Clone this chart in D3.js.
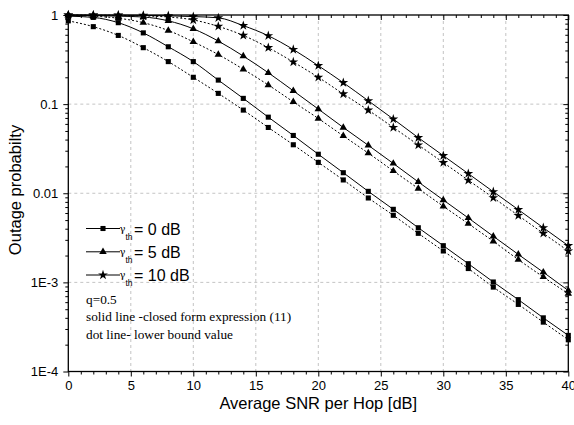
<!DOCTYPE html>
<html><head><meta charset="utf-8">
<script src="https://cdn.jsdelivr.net/npm/d3@7"></script>
<style>body{margin:0;background:#fff}</style>
</head><body><svg id="c" width="574" height="425"></svg>
<script>
const snrDb = [0,2,4,6,8,10,12,14,16,18,20,22,24,26,28,30,32,34,36,38,40];
// gamma_th = 0 dB
const closed0 = [0.97,0.94,0.82,0.63,0.44,0.30,0.186,0.116,0.0714,0.0445,0.0274,0.0170,0.0105,0.0066,0.0041,0.00258,0.00162,0.00101,0.00064,0.00040,0.000254];
const lower0  = [0.86,0.74,0.59,0.43,0.30,0.20,0.132,0.0857,0.0547,0.0350,0.0222,0.0141,0.00885,0.00566,0.00355,0.00225,0.00143,0.000885,0.000566,0.000358,0.000227];
// gamma_th = 5 dB
const closed5 = [0.995,0.985,0.97,0.95,0.86,0.70,0.51,0.346,0.225,0.141,0.088,0.0547,0.0345,0.0216,0.0134,0.0084,0.00528,0.00329,0.00206,0.0013,0.00081];
const lower5  = [0.99,0.97,0.92,0.82,0.67,0.50,0.36,0.246,0.164,0.106,0.069,0.044,0.0282,0.0178,0.0113,0.00714,0.00456,0.00289,0.0018,0.00115,0.000746];
// gamma_th = 10 dB
const closed10 = [0.999,0.998,0.995,0.99,0.98,0.96,0.93,0.76,0.585,0.41,0.27,0.174,0.109,0.068,0.042,0.0264,0.0166,0.0104,0.00655,0.0041,0.00258];
const lower10  = [0.998,0.995,0.99,0.975,0.95,0.88,0.745,0.59,0.43,0.297,0.20,0.13,0.0855,0.0547,0.0348,0.0221,0.0140,0.0089,0.00563,0.00355,0.00225];

const xTicks = [0,5,10,15,20,25,30,35,40];
const yTicks = [1,0.1,0.01,1e-3,1e-4];
const yTickLabels = ["1","0.1","0.01","1E-3","1E-4"];
const legendLabels = ["= 0 dB","= 5 dB","= 10 dB"];
const notes = ["q=0.5","solid line -closed form expression (11)","dot line- lower bound value"];
const xTitle = "Average SNR per Hop [dB]";
const yTitle = "Outage probabilty";

const L=68.3, R=568.3, T=15, B=371.5;
const svg = d3.select("#c");
const x = d3.scaleLinear().domain([0,40]).range([L,R]);
const y = d3.scaleLog().domain([1e-4,1]).range([B,T]);

const xMinor = d3.range(0,41,1).filter(v=>v%5!==0);
const yMinor = [];
[1e-4,1e-3,1e-2,1e-1].forEach(d=>{for(let k=2;k<=9;k++) yMinor.push(d*k);});

// grid
const g = svg.append("g").attr("stroke","#c4c4c4").attr("stroke-dasharray","3,3").attr("stroke-width",1);
xTicks.slice(1,-1).forEach(v=>g.append("line").attr("x1",x(v)).attr("x2",x(v)).attr("y1",T).attr("y2",B));
yTicks.slice(1,-1).forEach(v=>g.append("line").attr("x1",L).attr("x2",R).attr("y1",y(v)).attr("y2",y(v)));

// axes
function styleAxis(sel){sel.select(".domain").remove(); sel.selectAll("line").attr("stroke","#000");}
const fmtY = v => yTickLabels[yTicks.indexOf(v)];
svg.append("g").attr("transform",`translate(0,${B})`)
  .call(d3.axisBottom(x).tickValues(xTicks).tickSize(5).tickPadding(4).tickFormat(d3.format("d")))
  .call(styleAxis).call(s=>s.selectAll("text").attr("font-family","Arial, 'Liberation Sans'").attr("font-size",13).attr("fill","#000"));
svg.append("g").attr("transform",`translate(0,${B})`)
  .call(d3.axisBottom(x).tickValues(xMinor).tickSize(3).tickFormat("")).call(styleAxis);
svg.append("g").attr("transform",`translate(0,${T})`)
  .call(d3.axisBottom(x).tickValues(xTicks).tickSize(5).tickFormat("")).call(styleAxis);
svg.append("g").attr("transform",`translate(0,${T})`)
  .call(d3.axisBottom(x).tickValues(xMinor).tickSize(3).tickFormat("")).call(styleAxis);
svg.append("g").attr("transform",`translate(${L},0)`)
  .call(d3.axisLeft(y).tickValues(yTicks).tickSize(5).tickPadding(5).tickFormat(fmtY))
  .call(styleAxis).call(s=>s.selectAll("text").attr("font-family","Arial, 'Liberation Sans'").attr("font-size",13).attr("fill","#000"));
svg.append("g").attr("transform",`translate(${L},0)`)
  .call(d3.axisLeft(y).tickValues(yMinor).tickSize(3).tickFormat("")).call(styleAxis);
svg.append("g").attr("transform",`translate(${R},0)`)
  .call(d3.axisLeft(y).tickValues(yTicks).tickSize(5).tickFormat("")).call(styleAxis);
svg.append("g").attr("transform",`translate(${R},0)`)
  .call(d3.axisLeft(y).tickValues(yMinor).tickSize(3).tickFormat("")).call(styleAxis);

svg.append("rect").attr("x",L).attr("y",T).attr("width",R-L).attr("height",B-T)
  .attr("fill","none").attr("stroke","#000").attr("stroke-width",1.3);

// series
const series = [
  {v:closed0, dash:null, sym:d3.symbolSquare, size:26},
  {v:lower0, dash:"2,2", sym:d3.symbolSquare, size:26},
  {v:closed5, dash:null, sym:d3.symbolTriangle, size:24},
  {v:lower5, dash:"2,2", sym:d3.symbolTriangle, size:24},
  {v:closed10, dash:null, sym:d3.symbolStar, size:30},
  {v:lower10, dash:"2,2", sym:d3.symbolStar, size:30}
];
const line = d3.line().x((d,i)=>x(snrDb[i])).y(d=>y(d)).curve(d3.curveMonotoneX);
series.forEach(s=>{
  svg.append("path").attr("d",line(s.v)).attr("fill","none").attr("stroke","#000")
    .attr("stroke-width",1).attr("stroke-dasharray",s.dash);
  svg.append("g").selectAll("path").data(s.v).join("path")
    .attr("transform",(d,i)=>`translate(${x(snrDb[i])},${y(d)})`)
    .attr("d",d3.symbol(s.sym,s.size)()).attr("fill","#000");
});

// legend
const legSyms = [[d3.symbolSquare,26],[d3.symbolTriangle,24],[d3.symbolStar,30]];
const legY = [228.5,251.8,275];
legendLabels.forEach((t,i)=>{
  const gy = legY[i];
  svg.append("line").attr("x1",86).attr("x2",120).attr("y1",gy).attr("y2",gy).attr("stroke","#000");
  svg.append("path").attr("transform",`translate(103,${gy})`).attr("d",d3.symbol(legSyms[i][0],legSyms[i][1])()).attr("fill","#000");
  svg.append("text").attr("x",119.5).attr("y",gy+3).attr("font-family","'DejaVu Serif', serif").attr("font-size",10).text("γ");
  svg.append("text").attr("x",125.5).attr("y",gy+11).attr("font-family","Arial, 'Liberation Sans'").attr("font-size",8.5).text("th");
  svg.append("text").attr("x",134).attr("y",gy+6).attr("font-family","Arial, 'Liberation Sans'").attr("font-size",16).text(t);
});

// notes
const noteY = [303.5,321,338.5];
notes.forEach((t,i)=>svg.append("text").attr("x",86).attr("y",noteY[i])
  .attr("font-family","'Liberation Serif', 'Times New Roman', serif").attr("font-size",13.3).text(t));

// titles
svg.append("text").attr("x",(L+R)/2).attr("y",409).attr("text-anchor","middle")
  .attr("font-family","Arial, 'Liberation Sans'").attr("font-size",16.5).text(xTitle);
svg.append("text").attr("transform","translate(21,190) rotate(-90)").attr("text-anchor","middle")
  .attr("font-family","Arial, 'Liberation Sans'").attr("font-size",16.5).text(yTitle);
</script></body></html>
